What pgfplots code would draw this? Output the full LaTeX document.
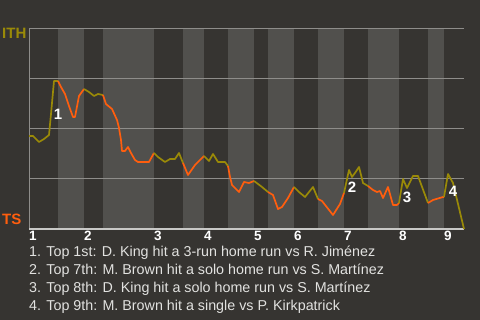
\documentclass[border=0pt]{standalone}
\usepackage{pgfplots}
\pgfplotsset{compat=1.18}
\usepackage{fontspec}
\setmainfont{Liberation Sans}
\definecolor{bg}{HTML}{363431}
\definecolor{stripe}{HTML}{51504D}
\definecolor{gridc}{HTML}{8E8D8A}
\definecolor{axisc}{HTML}{C8C8C6}
\definecolor{ith}{HTML}{9A8A08}
\definecolor{ts}{HTML}{FF5E0E}
\definecolor{txt}{HTML}{E2E2E0}
\tikzset{ithl/.style={draw=ith, line width=1.7pt, line join=round}, tsl/.style={draw=ts, line width=1.7pt, line join=round}}
\begin{document}
\begin{tikzpicture}[x=1pt,y=1pt]
\useasboundingbox (0,0) rectangle (480,320);
\fill[bg] (0,0) rectangle (480,320);
\begin{axis}[
  at={(29pt,91pt)}, anchor=south west,
  scale only axis, width=435pt, height=201pt,
  xmin=29, xmax=464, ymin=0, ymax=201,
  axis x line*=bottom, axis y line*=left,
  axis line style={draw=axisc, line width=1.2pt},
  y axis line style={draw=gridc, line width=0.8pt},
  ytick={51,101,151,201}, yticklabels={},
  xtick={29,84,154,204,254,294,344,399,444},
  xticklabels={\textbf{1},\textbf{2},\textbf{3},\textbf{4},\textbf{5},\textbf{6},\textbf{7},\textbf{8},\textbf{9}},
  xticklabel style={anchor=north west, inner sep=0pt, yshift=-2pt, font=\fontsize{13.5}{13.5}\selectfont, text=white},
  major tick length=0pt,
  clip=false,
]
% light stripes (bottom halves)
\addplot[draw=none, fill=stripe] coordinates {(58,201) (84,201)} \closedcycle;
\addplot[draw=none, fill=stripe] coordinates {(103,201) (154,201)} \closedcycle;
\addplot[draw=none, fill=stripe] coordinates {(183,201) (204,201)} \closedcycle;
\addplot[draw=none, fill=stripe] coordinates {(228,201) (254,201)} \closedcycle;
\addplot[draw=none, fill=stripe] coordinates {(268,201) (294,201)} \closedcycle;
\addplot[draw=none, fill=stripe] coordinates {(318,201) (344,201)} \closedcycle;
\addplot[draw=none, fill=stripe] coordinates {(368,201) (399,201)} \closedcycle;
\addplot[draw=none, fill=stripe] coordinates {(428,201) (444,201)} \closedcycle;
% grid lines
\addplot[draw=gridc, line width=0.8pt] coordinates {(29,51) (464,51)};
\addplot[draw=gridc, line width=0.8pt] coordinates {(29,101) (464,101)};
\addplot[draw=gridc, line width=0.8pt] coordinates {(29,151) (464,151)};
\addplot[draw=gridc, line width=0.8pt] coordinates {(29,201) (464,201)};
\addplot[draw=axisc, line width=1.2pt] coordinates {(29,0) (464,0)};
% win probability line
\addplot[ithl] coordinates {(29,93)(33,93)(39,87)(44,90)(49,94)(51,115)(54,148)(58,148)};
\addplot[tsl] coordinates {(58,148)(61,142)(65,135)(69,123)(73,112)(75,112)(79,133)(84,140)};
\addplot[ithl] coordinates {(84,140)(89,137)(94,133)(98,135)(103,134)};
\addplot[tsl] coordinates {(103,134)(106,125)(112,120)(117,109)(119,101)(121,89)(122,78)(125,78)(128,82)(131,76)(135,69)(138,67)(149,67)(154,76)};
\addplot[ithl] coordinates {(154,76)(158,72)(165,67)(170,70)(175,70)(179,76)(183,66)};
\addplot[tsl] coordinates {(183,66)(188,54)(195,64)(204,73)};
\addplot[ithl] coordinates {(204,73)(209,68)(213,75)(218,67)(225,67)(228,63)};
\addplot[tsl] coordinates {(228,63)(230,52)(232,44)(239,37)(244,47)(249,46)(254,48)};
\addplot[ithl] coordinates {(254,48)(262,42)(268,37)};
\addplot[tsl] coordinates {(268,37)(273,34)(278,20)(282,22)(288,31)(294,42)};
\addplot[ithl] coordinates {(294,42)(299,37)(305,32)(313,42)(318,30)};
\addplot[tsl] coordinates {(318,30)(322,28)(333,14)(340,25)(344,36)};
\addplot[ithl] coordinates {(344,36)(349,59)(352,52)(355,56)(359,62)(363,46)(368,43)};
\addplot[tsl] coordinates {(368,43)(373,39)(377,37)(380,38)(383,31)(388,42)(393,24)(397,24)(399,26)};
\addplot[ithl] coordinates {(399,26)(403,50)(407,41)(413,53)(418,53)(428,26)};
\addplot[tsl] coordinates {(428,26)(433,29)(443,32)(444,32)};
\addplot[ithl] coordinates {(444,32)(448,55)(453,46)(464,0)};
% annotations
\node[text=white, font=\fontsize{15}{15}\selectfont\bfseries, inner sep=0pt] at (axis cs:58,115) {1};
\node[text=white, font=\fontsize{15}{15}\selectfont\bfseries, inner sep=0pt] at (axis cs:352,42) {2};
\node[text=white, font=\fontsize{15}{15}\selectfont\bfseries, inner sep=0pt] at (axis cs:407,32) {3};
\node[text=white, font=\fontsize{15}{15}\selectfont\bfseries, inner sep=0pt] at (axis cs:453,38) {4};
\end{axis}
\node[anchor=west, inner sep=0pt, text=ith, font=\fontsize{15}{15}\selectfont\bfseries] at (2,287) {ITH};
\node[anchor=west, inner sep=0pt, text=ts, font=\fontsize{15}{15}\selectfont\bfseries] at (2,101) {TS};
\begin{scope}[every node/.style={anchor=west, inner sep=0pt, text=txt, font=\fontsize{14.3}{14.3}\selectfont}]
\node at (29,67) {1. Top 1st: D. King hit a 3-run home run vs R. Jiménez};
\node at (29,49) {2. Top 7th: M. Brown hit a solo home run vs S. Martínez};
\node at (29,31) {3. Top 8th: D. King hit a solo home run vs S. Martínez};
\node at (29,13) {4. Top 9th: M. Brown hit a single vs P. Kirkpatrick};
\end{scope}
\end{tikzpicture}
\end{document}
